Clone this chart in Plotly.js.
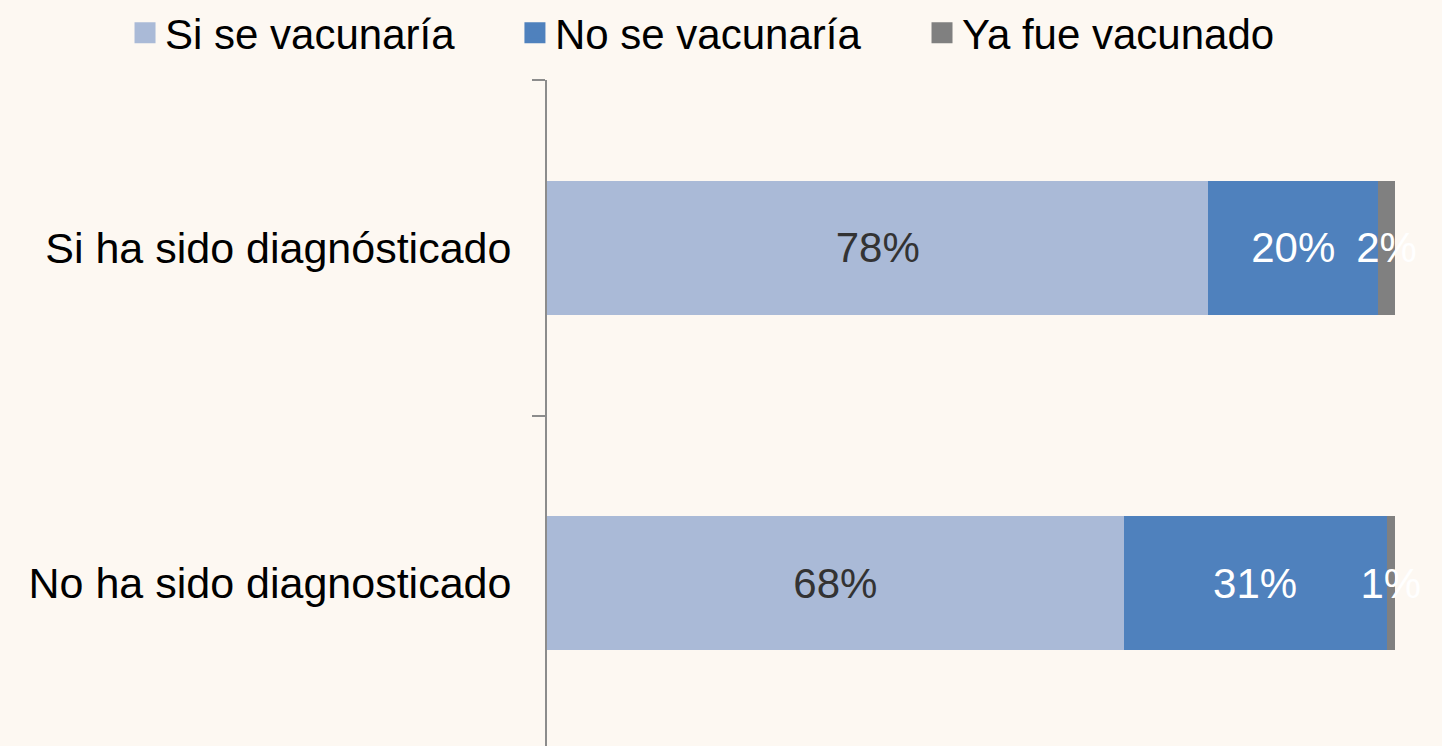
<!DOCTYPE html>
<html>
<head>
<meta charset="utf-8">
<script src="https://cdn.plot.ly/plotly-3.0.1.min.js"></script>
<style>
  html, body { margin: 0; padding: 0; background: #FDF8F2; overflow: hidden; }
  #chart { width: 1442px; height: 751px; }
</style>
</head>
<body>
<div id="chart"></div>
<script>
// ---- Data ----
const categories = ['Si ha sido diagnósticado', 'No ha sido diagnosticado'];
const seriesNames = ['Si se vacunaría', 'No se vacunaría', 'Ya fue vacunado'];
const siSeVacunaria = [78, 68];
const noSeVacunaria = [20, 31];
const yaFueVacunado = [2, 1];

const seriesValues = [siSeVacunaria, noSeVacunaria, yaFueVacunado];
const colors = ['#AABAD7', '#4F81BD', '#808080'];
const textColors = ['#333333', '#FFFFFF', '#FFFFFF'];
const FONT = 'Liberation Sans, Arial, sans-serif';
const legendIds = ['legend', 'legend2', 'legend3'];
const legendX = [0.0867, 0.3571, 0.6394];

const traces = [];
seriesValues.forEach((vals, i) => {
  traces.push({
    type: 'bar',
    orientation: 'h',
    name: seriesNames[i],
    y: categories,
    x: vals,
    marker: { color: colors[i], line: { width: 0 } },
    texttemplate: '%{x}%',
    textposition: 'inside',
    insidetextanchor: 'middle',
    textangle: 0,
    constraintext: 'none',
    cliponaxis: false,
    textfont: { family: FONT, size: 42, color: textColors[i] },
    hoverinfo: 'skip',
    showlegend: false
  });
});
// legend entries (square markers), one legend per series
seriesValues.forEach((vals, i) => {
  traces.push({
    type: 'scatter',
    mode: 'markers',
    name: seriesNames[i],
    x: [null],
    y: [null],
    legend: legendIds[i],
    marker: { symbol: 'square', size: 16, color: colors[i], line: { color: colors[i], width: 5 } },
    showlegend: true,
    hoverinfo: 'skip'
  });
});

const layout = {
  width: 1442,
  height: 751,
  margin: { l: 547, r: 47, t: 80, b: 0, pad: 0 },
  paper_bgcolor: '#FDF8F2',
  plot_bgcolor: '#FDF8F2',
  barmode: 'stack',
  bargap: 0.6,
  font: { family: FONT, size: 42, color: '#000000' },
  showlegend: true,
  xaxis: {
    range: [0, 100],
    showgrid: false, zeroline: false, showline: false,
    showticklabels: false, ticks: '', fixedrange: true
  },
  yaxis: {
    type: 'category',
    autorange: 'reversed',
    showgrid: false, zeroline: false,
    showline: true, linecolor: '#8C8C8C', linewidth: 2,
    ticks: 'outside', ticklen: 13, tickwidth: 2, tickcolor: '#8C8C8C',
    tickson: 'boundaries',
    ticklabelstandoff: 25,
    tickfont: { family: FONT, size: 43, color: '#000000' },
    fixedrange: true
  }
};
legendIds.forEach((id, i) => {
  layout[id] = {
    orientation: 'h',
    xref: 'container', yref: 'container',
    x: legendX[i], xanchor: 'left',
    y: 0.956, yanchor: 'middle',
    font: { family: FONT, size: 42, color: '#000000' },
    bgcolor: 'rgba(0,0,0,0)'
  };
});

Plotly.newPlot('chart', traces, layout, { displayModeBar: false, staticPlot: true });
</script>
</body>
</html>
